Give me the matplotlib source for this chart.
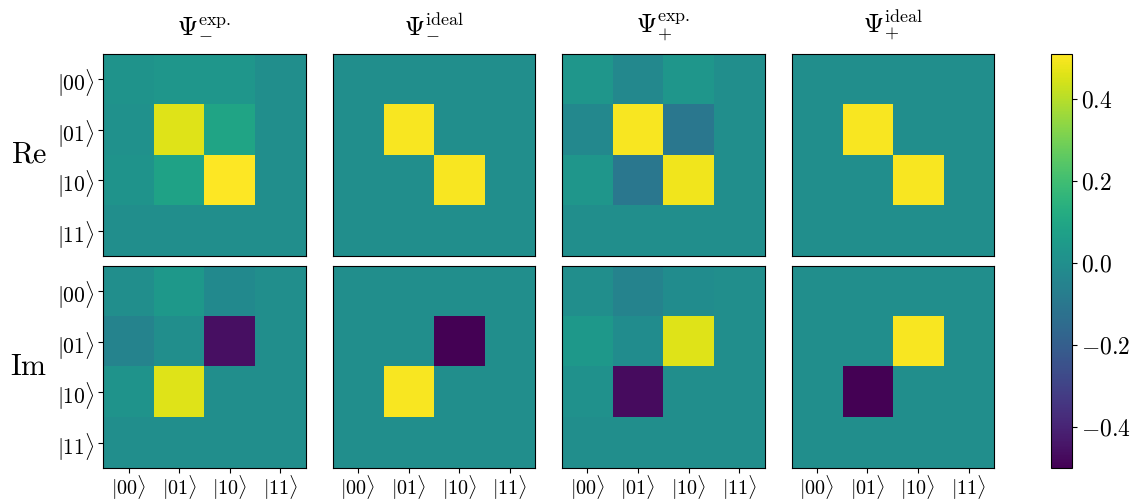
import matplotlib
matplotlib.use("Agg")
import matplotlib.pyplot as plt
import numpy as np

plt.rcParams.update({
    "mathtext.fontset": "cm",
    "font.family": "serif",
    "font.serif": ["cmr10", "DejaVu Serif"],
    "axes.formatter.use_mathtext": True,
    "axes.unicode_minus": True,
})

kets = [r"$|00\rangle$", r"$|01\rangle$", r"$|10\rangle$", r"$|11\rangle$"]
titles = [r"$\Psi_{-}^{\mathrm{exp.}}$", r"$\Psi_{-}^{\mathrm{ideal}}$",
          r"$\Psi_{+}^{\mathrm{exp.}}$", r"$\Psi_{+}^{\mathrm{ideal}}$"]
row_names = [r"$\mathrm{Re}$", r"$\mathrm{Im}$"]

# density matrices, real and imaginary parts
re_minus_exp = [[0.02, 0.03, 0.03, 0.00],
                [0.01, 0.46, 0.09, 0.00],
                [0.02, 0.08, 0.51, 0.00],
                [0.00, 0.00, 0.00, 0.00]]
re_minus_ideal = [[0.0, 0.0, 0.0, 0.0],
                  [0.0, 0.5, 0.0, 0.0],
                  [0.0, 0.0, 0.5, 0.0],
                  [0.0, 0.0, 0.0, 0.0]]
re_plus_exp = [[0.03, -0.03, 0.03, 0.00],
               [-0.03, 0.50, -0.10, 0.00],
               [0.03, -0.10, 0.49, 0.00],
               [0.00, 0.00, 0.00, 0.00]]
re_plus_ideal = [[0.0, 0.0, 0.0, 0.0],
                 [0.0, 0.5, 0.0, 0.0],
                 [0.0, 0.0, 0.5, 0.0],
                 [0.0, 0.0, 0.0, 0.0]]

im_minus_exp = [[0.00, 0.04, -0.02, 0.00],
                [-0.05, 0.00, -0.46, 0.00],
                [0.02, 0.46, 0.00, 0.00],
                [0.00, 0.00, 0.00, 0.00]]
im_minus_ideal = [[0.0, 0.0, 0.0, 0.0],
                  [0.0, 0.0, -0.5, 0.0],
                  [0.0, 0.5, 0.0, 0.0],
                  [0.0, 0.0, 0.0, 0.0]]
im_plus_exp = [[0.00, -0.05, -0.01, 0.00],
               [0.04, -0.01, 0.46, 0.00],
               [0.01, -0.47, 0.00, 0.00],
               [0.00, 0.00, 0.00, 0.00]]
im_plus_ideal = [[0.0, 0.0, 0.0, 0.0],
                 [0.0, 0.0, 0.5, 0.0],
                 [0.0, -0.5, 0.0, 0.0],
                 [0.0, 0.0, 0.0, 0.0]]

grid = [[re_minus_exp, re_minus_ideal, re_plus_exp, re_plus_ideal],
        [im_minus_exp, im_minus_ideal, im_plus_exp, im_plus_ideal]]

VMIN, VMAX = -0.5, 0.51

W, H = 1133, 500
fig = plt.figure(figsize=(W / 100, H / 100), dpi=100)

left0, aw, gap = 103.3, 202.4, 27.0
tops = [54.0, 266.0]
ah = 202.0

im = None
for r in range(2):
    for c in range(4):
        x0 = left0 + c * (aw + gap)
        ax = fig.add_axes([x0 / W, 1 - (tops[r] + ah) / H, aw / W, ah / H])
        im = ax.imshow(np.array(grid[r][c]), cmap="viridis", vmin=VMIN, vmax=VMAX,
                       interpolation="nearest", aspect="auto")
        ax.set_xticks(range(4))
        ax.set_yticks(range(4))
        ax.tick_params(axis="y", pad=2.5)
        ax.tick_params(axis="x", pad=0.5)
        if r == 1:
            ax.set_xticklabels(kets, fontsize=14.5)
        else:
            ax.tick_params(axis="x", bottom=False, labelbottom=False)
        if c == 0:
            ax.set_yticklabels(kets, fontsize=15.5)
        else:
            ax.tick_params(axis="y", left=False, labelleft=False)
        if r == 0:
            ax.set_title(titles[c], fontsize=18.5, pad=16)

for r, name in enumerate(row_names):
    fig.text(47 / W, 1 - (tops[r] + ah / 2) / H, name, fontsize=21.5,
             ha="right", va="center")

cax = fig.add_axes([1050.7 / W, 1 - 468.3 / H, 21.0 / W, 414.3 / H])
cb = fig.colorbar(im, cax=cax)
cb.set_ticks([-0.4, -0.2, 0.0, 0.2, 0.4])
cb.ax.tick_params(labelsize=17)

fig.savefig("out.png", dpi=100)
